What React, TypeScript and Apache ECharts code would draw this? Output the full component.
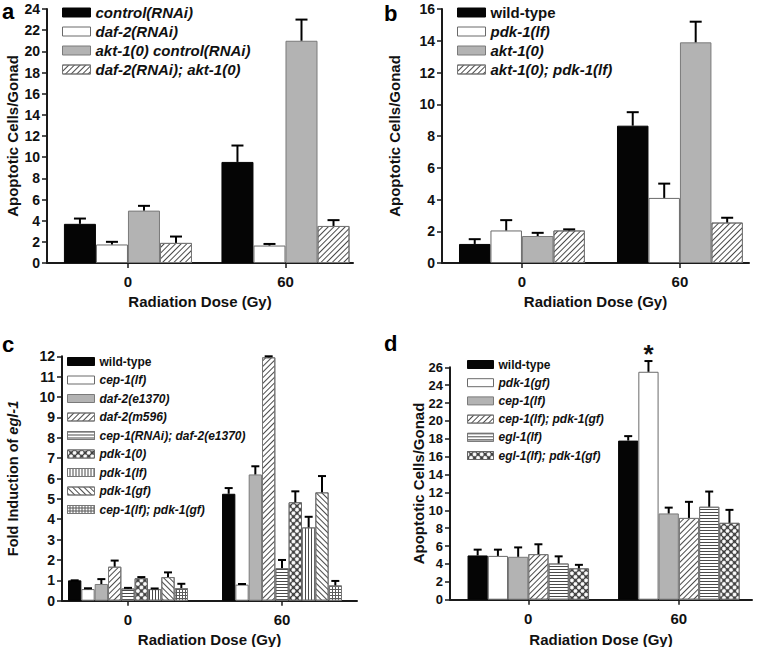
import React, { useEffect, useRef } from 'react';
import * as echarts from 'echarts';

const FONT = '"Liberation Sans", Arial, Helvetica, sans-serif';

// ---------- data ----------
const doseLabels = ['0', '60'];

// panel a
const aNames = ['control(RNAi)', 'daf-2(RNAi)', 'akt-1(0) control(RNAi)', 'daf-2(RNAi); akt-1(0)'];
const aMeans = [[3.7, 9.55], [1.75, 1.65], [4.95, 21.0], [1.9, 3.5]];
const aErrs = [[0.5, 1.55], [0.25, 0.15], [0.45, 2.0], [0.6, 0.55]];
const aPatterns = ['black', 'white', 'gray', 'diag'];

// panel b
const bNames = ['wild-type', 'pdk-1(lf)', 'akt-1(0)', 'akt-1(0); pdk-1(lf)'];
const bMeans = [[1.2, 8.65], [2.05, 4.1], [1.7, 13.9], [2.05, 2.55]];
const bErrs = [[0.3, 0.85], [0.65, 0.9], [0.2, 1.3], [0.07, 0.3]];
const bPatterns = ['black', 'white', 'gray', 'diag'];

// panel c
const cNames = ['wild-type', 'cep-1(lf)', 'daf-2(e1370)', 'daf-2(m596)', 'cep-1(RNAi); daf-2(e1370)', 'pdk-1(0)', 'pdk-1(lf)', 'pdk-1(gf)', 'cep-1(lf); pdk-1(gf)'];
const cMeans = [[1.0, 5.25], [0.57, 0.79], [0.82, 6.2], [1.67, 11.95], [0.6, 1.6], [1.1, 4.83], [0.57, 3.6], [1.16, 5.32], [0.62, 0.75]];
const cErrs = [[0, 0.28], [0.04, 0.03], [0.24, 0.4], [0.3, 0.05], [0.03, 0.4], [0.06, 0.54], [0.03, 0.52], [0.23, 0.8], [0.21, 0.22]];
const cPatterns = ['black', 'white', 'gray', 'diag', 'horiz', 'net', 'vert', 'antidiag', 'grid'];

// panel d
const dNames = ['wild-type', 'pdk-1(gf)', 'cep-1(lf)', 'cep-1(lf); pdk-1(gf)', 'egl-1(lf)', 'egl-1(lf); pdk-1(gf)'];
const dMeans = [[4.95, 17.8], [4.9, 25.5], [4.8, 9.65], [5.1, 9.15], [4.05, 10.4], [3.5, 8.6]];
const dErrs = [[0.65, 0.5], [0.7, 1.2], [1.05, 0.65], [1.1, 1.8], [0.8, 1.7], [0.4, 1.45]];
const dPatterns = ['black', 'white', 'gray', 'diag', 'horiz', 'net'];
const dMarks = [['', ''], ['', '*'], ['', ''], ['', ''], ['', ''], ['', '']];

// ---------- styles ----------
const LINE = '#4a4a4a';
function itemStyleFor(p: string): any {
  switch (p) {
    case 'black':
      return { color: '#050505', borderColor: '#050505', borderWidth: 1 };
    case 'white':
      return { color: '#ffffff', borderColor: '#6a6a6a', borderWidth: 1 };
    case 'gray':
      return { color: '#b3b3b3', borderColor: '#7a7a7a', borderWidth: 1 };
    case 'diag':
      return { color: '#ffffff', borderColor: '#777', borderWidth: 1, decal: { symbol: 'rect', symbolSize: 1, color: LINE, dashArrayX: [1, 0], dashArrayY: [1, 3], rotation: -Math.PI / 4 } };
    case 'antidiag':
      return { color: '#ffffff', borderColor: '#777', borderWidth: 1, decal: { symbol: 'rect', symbolSize: 1, color: LINE, dashArrayX: [1, 0], dashArrayY: [1, 3], rotation: Math.PI / 4 } };
    case 'horiz':
      return { color: '#ffffff', borderColor: '#777', borderWidth: 1, decal: { symbol: 'rect', symbolSize: 1, color: LINE, dashArrayX: [1, 0], dashArrayY: [1, 2], rotation: 0 } };
    case 'vert':
      return { color: '#ffffff', borderColor: '#777', borderWidth: 1, decal: { symbol: 'rect', symbolSize: 1, color: LINE, dashArrayX: [1, 0], dashArrayY: [1, 2], rotation: Math.PI / 2 } };
    case 'grid':
      return { color: '#5a5a5a', borderColor: '#777', borderWidth: 1, decal: { symbol: 'rect', symbolSize: 1, color: '#ffffff', dashArrayX: [2, 1], dashArrayY: [2, 1], rotation: 0 } };
    case 'net':
      return { color: '#3a3a3a', borderColor: '#666', borderWidth: 1, decal: { symbol: 'circle', symbolSize: 1, color: '#ffffff', dashArrayX: [4, 1], dashArrayY: [4, 1], rotation: Math.PI / 4 } };
  }
  return {};
}

interface PanelCfg {
  letter: string; letterLeft: number; letterTop: number;
  names: string[]; means: number[][]; errs: number[][]; patterns: string[]; marks?: string[][];
  grid: { left: number; right: number; top: number; bottom: number };
  xMin: number; xMax: number; gap: number;
  yMax: number; yInterval: number; yName: string; yNameGap: number; yNameSize: number; yLabelSize: number;
  xNameGap: number;
  legend: { left: number; top: number; w: number; h: number; size: number; lh: number; gap: number };
  cap: number;
}

function buildOption(cfg: PanelCfg): any {
  const n = cfg.names.length;
  const series: any[] = [];
  cfg.names.forEach((name, k) => {
    series.push({
      type: 'bar', name,
      barGap: '0%', barCategoryGap: (cfg.gap * 100).toFixed(2) + '%',
      itemStyle: itemStyleFor(cfg.patterns[k]),
      emphasis: { disabled: true },
      z: 2,
      data: cfg.means[k].map((v, i) => [i, v]),
    });
  });
  cfg.names.forEach((name, k) => {
    const marks = cfg.marks ? cfg.marks[k] : null;
    series.push({
      type: 'custom', name: name + ' SEM', silent: true, z: 4,
      data: cfg.means[k].map((v, i) => [i, v, cfg.errs[k][i]]),
      encode: { x: 0, y: 1 },
      renderItem: (params: any, api: any) => {
        const i = api.value(0), m = api.value(1), e = api.value(2);
        const p0 = api.coord([i, m]);
        const p1 = api.coord([i, m + e]);
        const band = api.size([1, 0])[0];
        const groupW = band * (1 - cfg.gap);
        const bw = groupW / n;
        const cx = p0[0] - groupW / 2 + bw * (k + 0.5);
        const children: any[] = [
          { type: 'line', shape: { x1: cx, y1: p0[1], x2: cx, y2: p1[1] }, style: { stroke: '#000', lineWidth: 2 } },
          { type: 'line', shape: { x1: cx - cfg.cap / 2, y1: p1[1], x2: cx + cfg.cap / 2, y2: p1[1] }, style: { stroke: '#000', lineWidth: 2 } },
        ];
        const mk = marks ? marks[params.dataIndex] : '';
        if (mk) {
          children.push({ type: 'text', style: { text: mk, x: cx, y: p1[1] + 6, align: 'center', verticalAlign: 'bottom', fontSize: 26, fontWeight: 'bold', fontFamily: FONT, fill: '#111' } });
        }
        return { type: 'group', children };
      },
    });
  });

  const axisLineStyle = { color: '#1a1a1a', width: 2 };
  const tickStyle = { color: '#1a1a1a', width: 1.5 };
  const L = cfg.legend;
  const nameBase = { fontSize: cfg.yNameSize, fontWeight: 700, color: '#111', fontFamily: FONT };
  return {
    animation: false,
    textStyle: { fontFamily: FONT },
    grid: { ...cfg.grid, containLabel: false, outerBoundsMode: 'none' },
    xAxis: {
      type: 'value', min: cfg.xMin, max: cfg.xMax,
      splitLine: { show: false },
      axisLine: { show: true, onZero: false, lineStyle: axisLineStyle },
      axisTick: { show: true, customValues: [0, 1], length: 5, lineStyle: tickStyle },
      axisLabel: {
        customValues: [0, 1], margin: 11,
        formatter: (v: number) => doseLabels[Math.round(v)] ?? '',
        fontSize: 15, fontWeight: 'bold', color: '#111', fontFamily: FONT,
      },
      name: 'Radiation Dose (Gy)', nameLocation: 'middle', nameGap: cfg.xNameGap, nameMoveOverlap: false,
      nameTextStyle: { fontSize: 15, fontWeight: 'bold', color: '#111', fontFamily: FONT },
    },
    yAxis: {
      type: 'value', min: 0, max: cfg.yMax, interval: cfg.yInterval,
      splitLine: { show: false },
      axisLine: { show: true, onZero: false, lineStyle: axisLineStyle },
      axisTick: { show: true, length: 5, lineStyle: tickStyle },
      axisLabel: { margin: 7, fontSize: cfg.yLabelSize, fontWeight: 'bold', color: '#111', fontFamily: FONT },
      name: cfg.yName, nameLocation: 'middle', nameGap: cfg.yNameGap, nameMoveOverlap: false,
      nameTextStyle: {
        ...nameBase,
        rich: { b: { ...nameBase }, i: { ...nameBase, fontStyle: 'italic' } },
      },
    },
    legend: {
      orient: 'vertical', left: L.left, top: L.top,
      icon: 'rect', itemWidth: L.w, itemHeight: L.h, itemGap: L.gap,
      selectedMode: false, padding: 0,
      data: cfg.names,
      itemStyle: { borderWidth: 1 },
      formatter: (name: string) => (name === 'wild-type' ? '{n|' + name + '}' : '{i|' + name + '}'),
      textStyle: {
        fontFamily: FONT, fontSize: L.size, fontWeight: 'bold', color: '#111', lineHeight: L.lh,
        rich: {
          n: { fontFamily: FONT, fontSize: L.size, fontWeight: 'bold', fontStyle: 'normal', color: '#111', lineHeight: L.lh },
          i: { fontFamily: FONT, fontSize: L.size, fontWeight: 'bold', fontStyle: 'italic', color: '#111', lineHeight: L.lh },
        },
      },
    },
    graphic: [
      { type: 'text', left: cfg.letterLeft, top: cfg.letterTop, style: { text: cfg.letter, fontSize: 22, fontWeight: 'bold', fontFamily: FONT, fill: '#000' } },
    ],
    series,
  };
}

const panels: { box: [number, number, number, number]; cfg: PanelCfg }[] = [
  {
    box: [0, 0, 381, 323],
    cfg: {
      letter: 'a', letterLeft: 2, letterTop: 0,
      names: aNames, means: aMeans, errs: aErrs, patterns: aPatterns,
      grid: { left: 47, right: 28, top: 9, bottom: 60 },
      xMin: -0.514, xMax: 1.4286, gap: 0.187,
      yMax: 24, yInterval: 2, yName: 'Apoptotic Cells/Gonad', yNameGap: 27, yNameSize: 15, yLabelSize: 14,
      xNameGap: 31,
      legend: { left: 62, top: 5, w: 28, h: 9, size: 15, lh: 15, gap: 4 },
      cap: 12,
    },
  },
  {
    box: [381, 0, 381, 323],
    cfg: {
      letter: 'b', letterLeft: 3, letterTop: 2,
      names: bNames, means: bMeans, errs: bErrs, patterns: bPatterns,
      grid: { left: 61, right: 13, top: 9, bottom: 60 },
      xMin: -0.506, xMax: 1.437, gap: 0.203,
      yMax: 16, yInterval: 2, yName: 'Apoptotic Cells/Gonad', yNameGap: 40, yNameSize: 15, yLabelSize: 14,
      xNameGap: 31,
      legend: { left: 76, top: 5, w: 28, h: 9, size: 15, lh: 15, gap: 4 },
      cap: 12,
    },
  },
  {
    box: [0, 323, 381, 324],
    cfg: {
      letter: 'c', letterLeft: 2, letterTop: 10,
      names: cNames, means: cMeans, errs: cErrs, patterns: cPatterns,
      grid: { left: 62, right: 24, top: 33.3, bottom: 46.3 },
      xMin: -0.4286, xMax: 1.487, gap: 0.221,
      yMax: 12, yInterval: 1, yName: '{b|Fold Induction of }{i|egl-1}', yNameGap: 42, yNameSize: 14.5, yLabelSize: 14,
      xNameGap: 31,
      legend: { left: 67, top: 32, w: 27, h: 8, size: 12, lh: 13, gap: 5.5 },
      cap: 8,
    },
  },
  {
    box: [381, 323, 381, 324],
    cfg: {
      letter: 'd', letterLeft: 3, letterTop: 9,
      names: dNames, means: dMeans, errs: dErrs, patterns: dPatterns, marks: dMarks,
      grid: { left: 69, right: 10, top: 44.3, bottom: 47.3 },
      xMin: -0.52, xMax: 1.486, gap: 0.193,
      yMax: 26, yInterval: 2, yName: 'Apoptotic Cells/Gonad', yNameGap: 24, yNameSize: 15, yLabelSize: 13,
      xNameGap: 32,
      legend: { left: 86, top: 35, w: 26, h: 8, size: 12, lh: 13, gap: 5.2 },
      cap: 8,
    },
  },
];

export default function App() {
  const refs = [useRef<HTMLDivElement>(null), useRef<HTMLDivElement>(null), useRef<HTMLDivElement>(null), useRef<HTMLDivElement>(null)];
  useEffect(() => {
    const charts = panels.map((p, idx) => {
      const el = refs[idx].current!;
      const chart = echarts.init(el, undefined, { renderer: 'svg' });
      chart.setOption(buildOption(p.cfg));
      return chart;
    });
    return () => charts.forEach((c) => c.dispose());
  }, []);
  return (
    <div style={{ position: 'fixed', left: 0, top: 0, width: 762, height: 647, background: '#fff' }}>
      {panels.map((p, idx) => (
        <div
          key={idx}
          ref={refs[idx]}
          style={{ position: 'absolute', left: p.box[0], top: p.box[1], width: p.box[2], height: p.box[3] }}
        />
      ))}
    </div>
  );
}
